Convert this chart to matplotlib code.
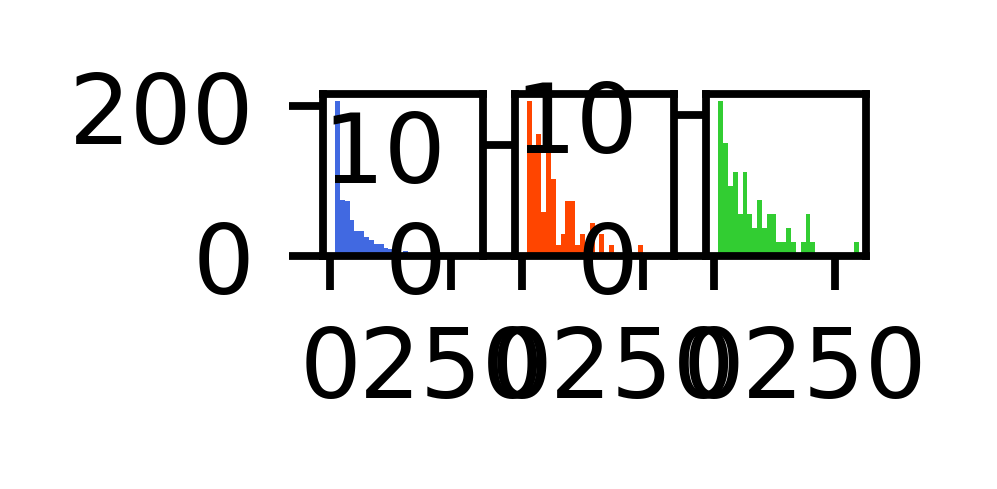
import matplotlib
matplotlib.use('Agg')
import matplotlib.pyplot as plt

# bins are 10 wide from 0 to 300 for all three panels
bin_edges = list(range(0, 310, 10))
blue_counts = [0, 207, 75, 74, 48, 34, 34, 26, 22, 16, 16, 11, 9, 8, 0, 7,
               0, 0, 0, 0, 0, 0, 0, 0, 0, 0, 0, 0, 0, 0]
orange_counts = [0, 14, 10, 11, 4, 10, 7, 1, 2, 5, 5, 1, 2, 1, 3, 0,
                 2, 0, 1, 0, 0, 0, 0, 0, 1, 0, 0, 0, 0, 0]
green_counts = [0, 11, 8, 5, 6, 3, 6, 3, 2, 4, 2, 3, 3, 1, 1, 2,
                1, 0, 1, 3, 1, 0, 0, 0, 0, 0, 0, 0, 0, 1]
colors = ['royalblue', 'orangered', 'limegreen']
yticks = [[0, 200], [0, 10], [0, 10]]
xticks = [0, 250]

fig, axes = plt.subplots(1, 3, figsize=(997 / 700, 490 / 700), dpi=700)
plt.subplots_adjust(left=0.324, right=0.8686, bottom=0.4755, top=0.8071, wspace=0.2)

for ax, counts, c, yt in zip(axes, [blue_counts, orange_counts, green_counts], colors, yticks):
    ax.hist(bin_edges[:-1], bins=bin_edges, weights=counts, color=c)
    ax.set_xticks(xticks)
    ax.set_yticks(yt)

fig.savefig('out.png', dpi=700)
